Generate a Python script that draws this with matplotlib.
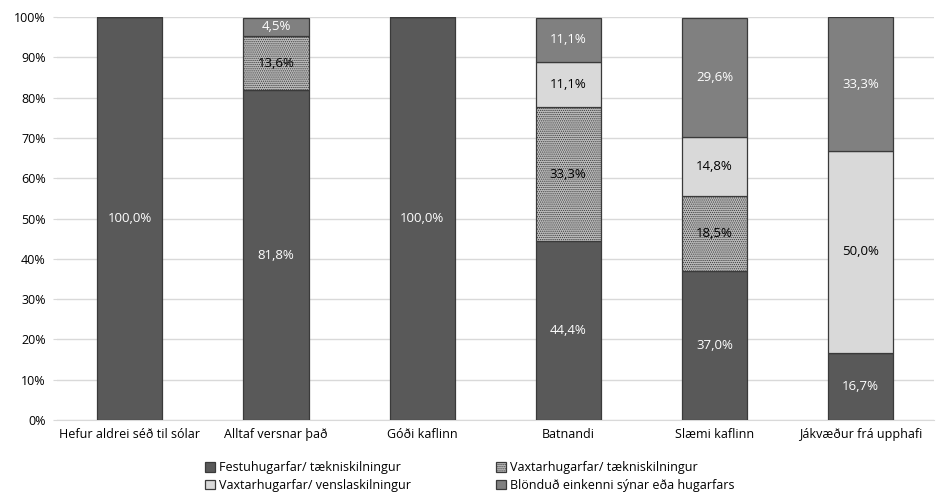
import matplotlib
matplotlib.use("Agg")
import matplotlib.pyplot as plt
from matplotlib.ticker import FuncFormatter
import numpy as np

plt.rcParams["font.family"] = ["Open Sans", "DejaVu Sans"]
plt.rcParams["hatch.linewidth"] = 0.6

categories = ["Hefur aldrei séð til sólar", "Alltaf versnar það", "Góði kaflinn",
              "Batnandi", "Slæmi kaflinn", "Jákvæður frá upphafi"]
festu_taekni = [100.0, 81.8, 100.0, 44.4, 37.0, 16.7]
vaxtar_taekni = [0.0, 13.6, 0.0, 33.3, 18.5, 0.0]
vaxtar_vensla = [0.0, 0.0, 0.0, 11.1, 14.8, 50.0]
blondud = [0.0, 4.5, 0.0, 11.1, 29.6, 33.3]

# (label, values, face colour, hatch, value text colour)
series = [
    ("Festuhugarfar/ tækniskilningur", festu_taekni, "#595959", None, "white"),
    ("Vaxtarhugarfar/ tækniskilningur", vaxtar_taekni, "#bdbdbd", "........", "black"),
    ("Vaxtarhugarfar/ venslaskilningur", vaxtar_vensla, "#d9d9d9", None, "black"),
    ("Blönduð einkenni sýnar eða hugarfars", blondud, "#808080", None, "white"),
]

fig = plt.figure(figsize=(9.46, 5.03), dpi=100)
ax = fig.add_axes([0.060, 0.165, 0.927, 0.801])

x = np.arange(len(categories))
bottom = np.zeros(len(categories))
handles = []
for label, vals, color, hatch, tcolor in series:
    vals = np.array(vals)
    bars = ax.bar(x, vals, 0.445, bottom=bottom, color=color, hatch=hatch,
                  edgecolor="#3a3a3a", linewidth=0.9, label=label, zorder=3)
    handles.append(bars)
    for xi, v, b in zip(x, vals, bottom):
        if v > 0:
            ax.text(xi, b + v / 2, f"{v:.1f}%".replace(".", ","), ha="center",
                    va="center", fontsize=9.5, color=tcolor, zorder=4)
    bottom += vals

ax.set_xlim(-0.5, len(categories) - 0.5)
ax.set_ylim(0, 100)
ax.set_yticks(np.arange(0, 101, 10))
ax.yaxis.set_major_formatter(FuncFormatter(lambda v, _: f"{v:.0f}%"))
ax.set_xticks(x)
ax.set_xticklabels(categories)
ax.grid(axis="y", color="#d9d9d9", linewidth=1, zorder=0)
for s in ["top", "right", "left"]:
    ax.spines[s].set_visible(False)
ax.spines["bottom"].set_color("#d9d9d9")
ax.tick_params(axis="y", length=3, color="#d9d9d9", labelsize=9, pad=5)
ax.tick_params(axis="x", length=0, labelsize=9, pad=6)

# legend fills column by column, so order handles to read row by row
order = [0, 2, 1, 3]
fig.legend(handles=[handles[i] for i in order], loc="lower left",
           bbox_to_anchor=(0.205, 0.0), ncol=2, frameon=False, fontsize=9,
           handlelength=0.8, handleheight=0.8, handletextpad=0.3,
           columnspacing=6.8, labelspacing=0.35)

fig.savefig("out.png", dpi=100, facecolor="white")
